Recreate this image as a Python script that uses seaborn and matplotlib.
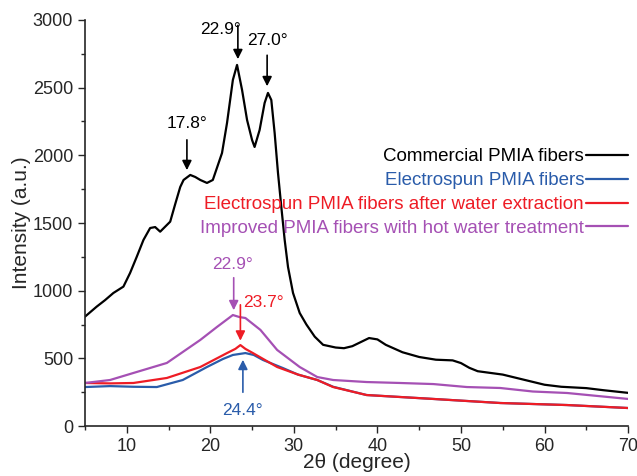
import pandas as pd
import numpy as np
import matplotlib.pyplot as plt
import seaborn as sns
from matplotlib.ticker import MultipleLocator

sns.set_style("ticks")
plt.rcParams["font.family"] = ["Liberation Sans", "DejaVu Sans"]
plt.rcParams["font.size"] = 13

# Commercial PMIA fibers
x_comm = [5, 6.4, 7.4, 8.4, 9.6, 10.4, 11.2, 12.0, 12.8, 13.4, 14.0, 15.2, 15.8, 16.4, 16.8,
          17.6, 18.2, 18.8, 19.6, 20.3, 21.4, 22.0, 22.7, 23.2, 23.8, 24.4, 25.0, 25.3, 25.9,
          26.5, 26.9, 27.3, 27.7, 28.1, 28.5, 28.9, 29.3, 29.9, 30.7, 31.5, 32.5, 33.5, 35,
          36, 37, 38, 39, 40, 41, 43, 45, 47, 49, 50, 51, 52, 55, 57, 60, 62, 65, 67, 70]
y_comm = [808, 882, 930, 983, 1030, 1131, 1251, 1375, 1463, 1470, 1436, 1510, 1640, 1766, 1818,
          1855, 1840, 1818, 1796, 1818, 2017, 2239, 2557, 2668, 2483, 2261, 2113, 2062, 2187,
          2387, 2461, 2409, 2165, 1870, 1618, 1375, 1175, 983, 835, 750, 660, 600, 580,
          575, 590, 620, 650, 640, 600, 545, 510, 490, 485, 465, 430, 405, 380, 350, 305,
          290, 280, 265, 245]

# Electrospun PMIA fibers
x_elec = [5, 8, 10.8, 13.6, 16.7, 19.6, 21.5, 22.7, 24.2, 25.2, 26.3, 28.7, 30.5, 32.8, 34.7,
          38.7, 46.7, 54.7, 62.7, 70]
y_elec = [288, 295, 290, 288, 340, 436, 495, 525, 539, 525, 488, 428, 380, 340, 290,
          229, 200, 170, 155, 133]

# Electrospun PMIA fibers after water extraction
x_extr = [5, 8, 10.8, 14.8, 18.8, 22.0, 23.0, 23.6, 24.2, 25.1, 28.0, 30.5, 32.8, 34.7,
          38.7, 46.7, 54.7, 62.7, 70]
y_extr = [318, 315, 318, 355, 436, 539, 570, 598, 570, 539, 436, 380, 340, 288,
          229, 200, 170, 155, 133]

# Improved PMIA fibers with hot water treatment
x_impr = [5, 8, 10.8, 14.8, 18.8, 20.8, 22.7, 23.5, 24.2, 26.0, 28.0, 30.7, 32.8, 34.7,
          38.7, 42.7, 46.7, 50.7, 54.7, 58.6, 62.7, 70]
y_impr = [318, 340, 392, 466, 636, 732, 820, 805, 798, 710, 562, 436, 362, 340,
          325, 318, 310, 288, 281, 255, 244, 200]

names = ["Commercial PMIA fibers", "Electrospun PMIA fibers",
         "Electrospun PMIA fibers after water extraction",
         "Improved PMIA fibers with hot water treatment"]
colors = ["#000000", "#2a5caa", "#ee1c25", "#a550b4"]

df = pd.concat([
    pd.DataFrame({"x": x_comm, "y": y_comm, "sample": names[0]}),
    pd.DataFrame({"x": x_elec, "y": y_elec, "sample": names[1]}),
    pd.DataFrame({"x": x_extr, "y": y_extr, "sample": names[2]}),
    pd.DataFrame({"x": x_impr, "y": y_impr, "sample": names[3]}),
])

# peak labels: (text, x, arrow top, arrow tip, text x, text y, color)
peaks = [
    ("22.9°", 23.3, 2980, 2690, 21.2, 2930, colors[0]),
    ("27.0°", 26.8, 2760, 2490, 26.8, 2845, colors[0]),
    ("17.8°", 17.2, 2135, 1870, 17.2, 2232, colors[0]),
    ("22.9°", 22.8, 1116, 835, 22.6, 1197, colors[3]),
    ("23.7°", 23.6, 916, 610, 26.3, 916, colors[2]),
    ("24.4°", 23.9, 229, 510, 23.8, 111, colors[1]),
]

fig = plt.figure(figsize=(6.37, 4.76), dpi=100)
ax = fig.add_axes([0.1334, 0.105, 0.8526, 0.853])

sns.lineplot(data=df, x="x", y="y", hue="sample", hue_order=names,
             palette=dict(zip(names, colors)), linewidth=1.6, ax=ax, sort=False)

for txt, xa, y0, y1, tx, ty, c in peaks:
    ax.annotate("", xy=(xa, y1), xytext=(xa, y0),
                arrowprops=dict(arrowstyle="-|>", color=c, lw=1.2, mutation_scale=14))
    ax.text(tx, ty, txt, color=c, fontsize=12.5, ha="center", va="center")

ax.set_xlim(5, 70)
ax.set_ylim(0, 3000)
ax.xaxis.set_major_locator(MultipleLocator(10))
ax.xaxis.set_minor_locator(MultipleLocator(5))
ax.yaxis.set_major_locator(MultipleLocator(500))
ax.yaxis.set_minor_locator(MultipleLocator(250))
ax.tick_params(which="major", length=5, width=1, labelsize=13)
ax.tick_params(which="minor", length=3, width=1)
sns.despine(ax=ax)
for s in ["left", "bottom"]:
    ax.spines[s].set_linewidth(1.2)

ax.set_xlabel("2θ (degree)", fontsize=15, labelpad=-1)
ax.set_ylabel("Intensity (a.u.)", fontsize=15, labelpad=1)

leg = ax.legend(loc="upper right", bbox_to_anchor=(1.0, 0.684), frameon=False,
                markerfirst=False, labelcolor="linecolor", fontsize=13.5,
                handlelength=2.25, handletextpad=0.1, labelspacing=0.36,
                borderpad=0, borderaxespad=0)
for t in leg.get_texts():
    t.set_ha("right")

plt.savefig("out.png", dpi=100)
plt.close()
